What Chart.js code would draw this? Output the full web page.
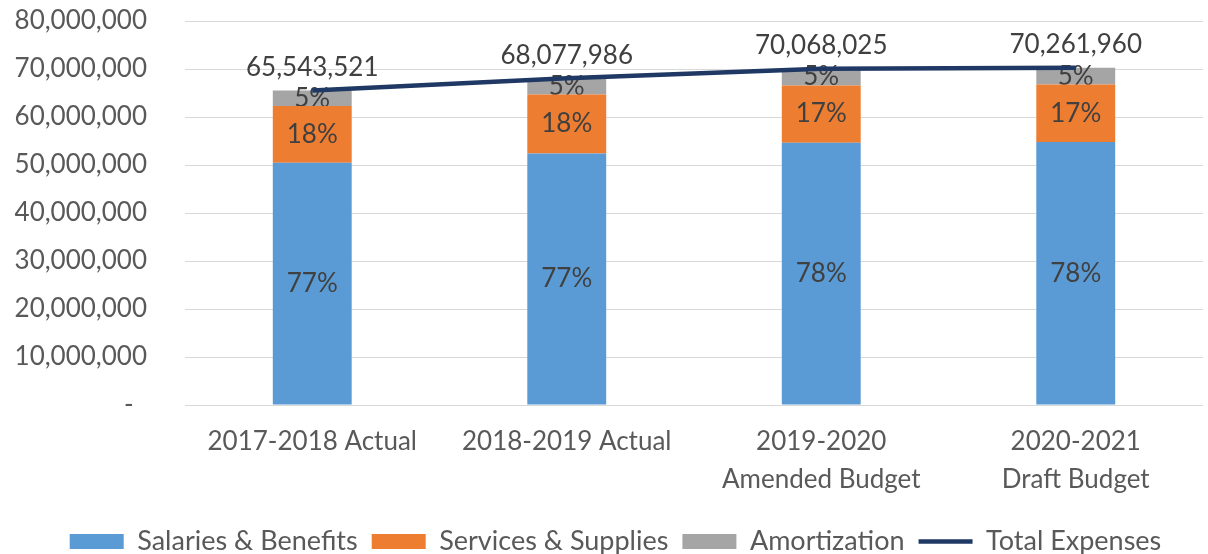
<!DOCTYPE html>
<html>
<head>
<meta charset="utf-8">
<title>Expenses by Year</title>
<script src="https://cdn.jsdelivr.net/npm/chart.js@4.4.1/dist/chart.umd.min.js"></script>
<style>
  html, body { margin: 0; padding: 0; background: #fff; }
  #wrap { width: 1208px; height: 554px; }
</style>
</head>
<body>
<div id="wrap"><canvas id="expenseChart"></canvas></div>
<script>
// fiscal years on the x axis
const categories = ['2017-2018 Actual', '2018-2019 Actual', ['2019-2020', 'Amended Budget'], ['2020-2021', 'Draft Budget']];

// expense components per year
const salaries = [50468511, 52420049, 54653060, 54804329];
const services = [11797834, 12254037, 11911564, 11944533];
const amortization = [3277176, 3403900, 3503401, 3513098];
const totals = [65543521, 68077986, 70068025, 70261960];

// value axis
const yMin = 0;
const yMax = 80000000;
const yStep = 10000000;

const FONT = 'Lato, "Open Sans", sans-serif';
const TEXT = '#595959';
const LABEL = '#404040';

// percentage of each stack segment, written in the middle of the segment
// (drawn per bar dataset so the total line still passes over them)
const segmentLabels = {
    id: 'segmentLabels',
    afterDatasetDraw(chart, args) {
        if (args.meta.type !== 'bar') return;
        const ds = chart.data.datasets[args.index];
        const ctx = chart.ctx;
        ctx.save();
        ctx.font = '26px ' + FONT;
        ctx.fillStyle = LABEL;
        ctx.textAlign = 'center';
        ctx.textBaseline = 'middle';
        args.meta.data.forEach((bar, i) => {
            const sum = salaries[i] + services[i] + amortization[i];
            const pct = Math.round(ds.data[i] / sum * 100);
            ctx.fillText(pct + '%', bar.x, (bar.y + bar.base) / 2);
        });
        ctx.restore();
    },
    afterDatasetsDraw(chart) {
        const idx = chart.data.datasets.findIndex(d => d.type === 'line');
        const meta = chart.getDatasetMeta(idx);
        const values = chart.data.datasets[idx].data;
        const ctx = chart.ctx;
        ctx.save();
        ctx.font = '26px ' + FONT;
        ctx.fillStyle = LABEL;
        ctx.textAlign = 'center';
        ctx.textBaseline = 'middle';
        meta.data.forEach((pt, i) => {
            ctx.fillText(values[i].toLocaleString('en-US'), pt.x, pt.y - 23);
        });
        ctx.restore();
    }
};

// nudge the legend row a little to the right of the canvas centre
const legendShift = {
    id: 'legendShift',
    afterLayout(chart) {
        if (chart.legend) {
            chart.legend.left += 14;
            chart.legend.right += 14;
        }
    }
};

new Chart(document.getElementById('expenseChart'), {
    data: {
        labels: categories,
        datasets: [
            { type: 'bar', label: 'Salaries & Benefits', data: salaries, backgroundColor: '#5B9BD5', pointStyle: 'rect', order: 1 },
            { type: 'bar', label: 'Services & Supplies', data: services, backgroundColor: '#ED7D31', pointStyle: 'rect', order: 1 },
            { type: 'bar', label: 'Amortization', data: amortization, backgroundColor: '#A5A5A5', pointStyle: 'rect', order: 1 },
            {
                type: 'line', label: 'Total Expenses', data: totals,
                borderColor: '#1F3864', backgroundColor: '#1F3864', borderWidth: 4.5,
                pointRadius: 0, pointHoverRadius: 0, pointStyle: 'line', tension: 0, order: 0
            }
        ]
    },
    options: {
        responsive: true,
        maintainAspectRatio: false,
        animation: false,
        devicePixelRatio: 1,
        layout: { padding: { top: 21, right: 5, left: 0, bottom: -11 } },
        datasets: {
            bar: { categoryPercentage: 1, barPercentage: 0.31 }
        },
        plugins: {
            tooltip: { enabled: false },
            legend: {
                position: 'bottom',
                labels: {
                    usePointStyle: true,
                    pointStyleWidth: 54,
                    boxHeight: 15,
                    padding: 14,
                    color: TEXT,
                    font: { family: FONT, size: 27 },
                    sort: (a, b) => a.datasetIndex - b.datasetIndex
                }
            }
        },
        scales: {
            x: {
                stacked: true,
                grid: { display: false, drawTicks: false },
                border: { display: false },
                ticks: {
                    color: TEXT,
                    padding: 18,
                    maxRotation: 0,
                    autoSkip: false,
                    font: { family: FONT, size: 26, lineHeight: 1.46 }
                },
                afterFit(scale) { scale.height = 109; }
            },
            y: {
                stacked: true,
                min: yMin,
                max: yMax,
                grid: { color: '#D9D9D9', lineWidth: 1, drawTicks: false },
                border: { display: false },
                ticks: {
                    stepSize: yStep,
                    color: TEXT,
                    padding: 38,
                    font: { family: FONT, size: 26 },
                    callback: v => v === 0 ? '-  ' : v.toLocaleString('en-US')
                },
                afterFit(scale) {
                    // fixed axis width; the wide tick padding should not push the plot down
                    scale.width = 185;
                    scale.paddingTop = 0;
                    scale.paddingBottom = 0;
                }
            }
        }
    },
    plugins: [segmentLabels, legendShift]
});
</script>
</body>
</html>
